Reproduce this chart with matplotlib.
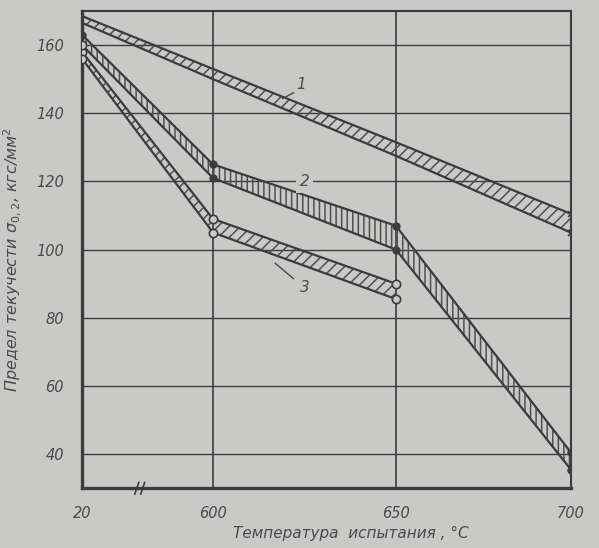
import matplotlib
matplotlib.use("Agg")
import matplotlib.pyplot as plt
import numpy as np

# Температура испытания, °C
temps = [20, 600, 650, 700]
temps3 = [20, 600, 650]

# Полоса 1 (верхняя и нижняя граница)
band1_upper = [168.5, 153, 131.5, 110.5]
band1_lower = [166.5, 150, 127.5, 105]
# Полоса 2
band2_upper = [163, 125, 107, 40.5]
band2_lower = [160, 121, 100, 35.5]
# Полоса 3 (только до 650 °C)
band3_upper = [158, 109, 90]
band3_lower = [156, 105, 85.5]

x_ticks = [20, 600, 650, 700]
y_ticks = [40, 60, 80, 100, 120, 140, 160]

bg = "#c9c9c7"
ink = "#3c3c3c"
txt = "#4a4a4a"

# ось X с разрывом: участок 20-600 сжат
knots_t = [20, 600, 650, 700]
knots_p = [0, 131, 314, 489]


def fwd(t):
    return np.interp(t, knots_t, knots_p)


def inv(p):
    return np.interp(p, knots_p, knots_t)


plt.rcParams["hatch.linewidth"] = 1.1
fig = plt.figure(figsize=(5.99, 5.48), dpi=100, facecolor=bg)
ax = fig.add_axes([0.137, 0.109, 0.816, 0.871], facecolor=bg)
ax.set_xscale("function", functions=(fwd, inv))
ax.set_xlim(20, 700)
ax.set_ylim(30, 170)

# сетка
for t in [600, 650]:
    ax.axvline(t, color=ink, lw=1.2, zorder=1)
for v in y_ticks:
    ax.axhline(v, color=ink, lw=1.0, zorder=1)

# полосы
ax.fill_between(temps, band1_lower, band1_upper, facecolor="none", edgecolor="#505050",
                hatch="///", linewidth=0, zorder=2)
ax.fill_between(temps, band2_lower, band2_upper, facecolor="none", edgecolor="#505050",
                hatch="|||", linewidth=0, zorder=2)
ax.fill_between(temps3, band3_lower, band3_upper, facecolor="none", edgecolor="#505050",
                hatch="///", linewidth=0, zorder=2)

ax.plot(temps, band1_upper, color=ink, lw=1.6, zorder=3)
ax.plot(temps, band1_lower, color=ink, lw=1.6, zorder=3)
ax.plot(temps[-1:], band1_upper[-1:], "x", color=ink, ms=5, mew=1.2, zorder=4)
ax.plot(temps[-1:], band1_lower[-1:], "x", color=ink, ms=5, mew=1.2, zorder=4)

ax.plot(temps, band2_upper, color=ink, lw=1.6, marker="o", ms=5, mfc=ink, mec=ink, zorder=3)
ax.plot(temps, band2_lower, color=ink, lw=1.6, zorder=3)
ax.plot(temps[1:], band2_lower[1:], "o", ms=5, mfc=ink, mec=ink, zorder=4)
ax.plot(temps[:1], band2_lower[:1], "o", ms=6, mfc=bg, mec=ink, mew=1.2, zorder=4)

ax.plot(temps3, band3_upper, color=ink, lw=1.6, marker="o", ms=6, mfc=bg, mec=ink, mew=1.2, zorder=3)
ax.plot(temps3, band3_lower, color=ink, lw=1.6, marker="o", ms=6, mfc=bg, mec=ink, mew=1.2, zorder=3)

# номера кривых
ax.text(624, 148.5, "1", fontsize=11, style="italic", color=txt, ha="center", va="center", zorder=5)
ax.plot([622, 619], [146, 144.3], color=txt, lw=1, zorder=5)
ax.text(625, 120, "2", fontsize=11, style="italic", color=txt, ha="center", va="center", zorder=5,
        bbox=dict(boxstyle="square,pad=0.25", fc=bg, ec="none"))
ax.text(625, 89, "3", fontsize=11, style="italic", color=txt, ha="center", va="center", zorder=5)
ax.plot([622, 617], [91.5, 96], color=txt, lw=1, zorder=5)

# знак разрыва оси
for dx in [0.112, 0.124]:
    ax.plot([dx - 0.004, dx + 0.004], [-0.012, 0.012], transform=ax.transAxes,
            color=ink, lw=1.2, clip_on=False, zorder=6)

for side in ["left", "bottom"]:
    ax.spines[side].set_linewidth(2.4)
for side in ["top", "right"]:
    ax.spines[side].set_linewidth(1.5)
for s in ax.spines.values():
    s.set_color(ink)

ax.set_xticks(x_ticks)
ax.set_xticklabels([str(t) for t in x_ticks])
ax.set_yticks(y_ticks)
ax.set_yticklabels([str(v) for v in y_ticks])
ax.tick_params(length=0, pad=13, labelsize=10.5, labelcolor=txt)
for lab in ax.get_xticklabels() + ax.get_yticklabels():
    lab.set_style("italic")

ax.set_xlabel("Температура  испытания , °С", fontsize=11, style="italic", color=txt)
ax.xaxis.set_label_coords(0.55, -0.08)
ax.set_ylabel("Предел текучести $\\sigma_{0,2}$, кгс/мм$^2$", fontsize=11.5, style="italic",
              color=txt)
ax.yaxis.set_label_coords(-0.12, 0.48)

fig.savefig("out.png", dpi=100, facecolor=bg)
